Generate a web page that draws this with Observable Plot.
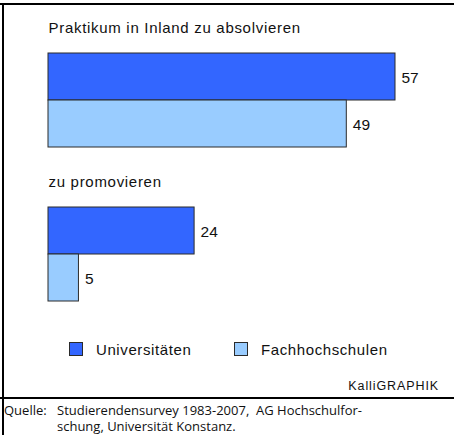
<!DOCTYPE html>
<html><head><meta charset="utf-8">
<script src="https://cdn.jsdelivr.net/npm/d3@7"></script>
<script src="https://cdn.jsdelivr.net/npm/@observablehq/plot@0.6"></script>
<style>
body{margin:0;background:#fff;}
#wrap{position:relative;width:454px;height:435px;overflow:hidden;background:#fff;font-family:"Liberation Sans",Arial,sans-serif;color:#111;}
#chart{position:absolute;left:0;top:0;}
.rule{position:absolute;background:#000;}
.leg{position:absolute;top:336px;height:26px;display:flex;align-items:center;font-size:15px;letter-spacing:0.6px;}
.sw{width:12px;height:12px;border:1px solid #2b2b2b;margin-right:13px;}
#credit{position:absolute;right:15px;top:379px;font-size:12.5px;letter-spacing:0.9px;}
.src{position:absolute;font-family:"Open Sans",sans-serif;font-size:13px;line-height:16px;white-space:pre;color:#111;}
</style></head><body>
<div id="wrap">
  <div id="chart"></div>
  <div class="rule" style="left:0;top:3px;width:444px;height:1.5px"></div>
  <div class="rule" style="left:444px;top:3px;width:10px;height:2px"></div>
  <div class="rule" style="left:2px;top:3px;width:2px;height:432px"></div>
  <div class="rule" style="left:0;top:397px;width:454px;height:2px"></div>
  <div id="legend"></div>
  <div id="credit"></div>
  <div id="source"></div>
</div>
<script>
const groups = ["Praktikum in Inland zu absolvieren", "zu promovieren"];
const types = ["Universitäten", "Fachhochschulen"];
const universitaeten = [57, 24];
const fachhochschulen = [49, 5];
const colors = ["#3366FF", "#99CCFF"];
const creditText = "KalliGRAPHIK";
const sourceLabel = "Quelle:";
const sourceLines = ["Studierendensurvey 1983-2007,  AG Hochschulfor-", "schung, Universität Konstanz."];

const rows = groups.flatMap((g, i) => [
  {group: g, type: types[0], value: universitaeten[i]},
  {group: g, type: types[1], value: fachhochschulen[i]}
]);
const titles = groups.map(g => ({group: g}));

const chart = Plot.plot({
  width: 454,
  height: 330,
  marginLeft: 48,
  marginRight: 59,
  marginTop: 52,
  marginBottom: 28,
  style: {fontFamily: '"Liberation Sans", Arial, sans-serif', background: "transparent"},
  x: {domain: [0, 57], axis: null},
  y: {domain: types, axis: null, padding: 0},
  fy: {domain: groups, axis: null, paddingInner: 0.387, paddingOuter: 0},
  color: {domain: types, range: colors},
  marks: [
    Plot.barX(rows, {x: "value", y: "type", fy: "group", fill: "type", stroke: "#2b2b2b", strokeWidth: 1}),
    Plot.text(rows, {x: "value", y: "type", fy: "group", text: d => String(d.value), textAnchor: "start", dx: 6, dy: 1, fontSize: 15.5, fill: "#111"}),
    Plot.text(titles, {fy: "group", text: "group", frameAnchor: "top-left", lineAnchor: "bottom", dy: -21, fontSize: 15, fill: "#111"})
  ]
});
document.getElementById("chart").appendChild(chart);
chart.querySelectorAll("text").forEach(t => { if (!/^\d+$/.test(t.textContent)) t.style.letterSpacing = "0.7px"; });

const legend = document.getElementById("legend");
const legLeft = [69, 234];
types.forEach((t, i) => {
  const d = document.createElement("div");
  d.className = "leg";
  d.style.left = legLeft[i] + "px";
  const sw = document.createElement("div");
  sw.className = "sw";
  sw.style.background = colors[i];
  const lab = document.createElement("span");
  lab.textContent = t;
  d.appendChild(sw); d.appendChild(lab);
  legend.appendChild(d);
});
document.getElementById("credit").textContent = creditText;

const src = document.getElementById("source");
const l0 = document.createElement("div");
l0.className = "src"; l0.style.left = "4px"; l0.style.top = "402px"; l0.textContent = sourceLabel;
src.appendChild(l0);
const body = document.createElement("div");
body.className = "src"; body.style.left = "57px"; body.style.top = "402px";
body.textContent = sourceLines.join("\n");
src.appendChild(body);
</script>
</body></html>
